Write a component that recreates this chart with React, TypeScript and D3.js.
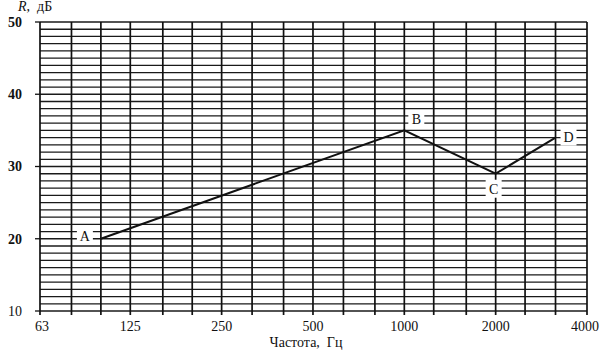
import { useEffect, useRef } from 'react';
import * as d3 from 'd3';

// Third-octave grid frequencies and labelled octaves
const gridFreqs = [63, 80, 100, 125, 160, 200, 250, 315, 400, 500, 630, 800, 1000, 1250, 1600, 2000, 2500, 3150, 4000];
const freqLabels = [63, 125, 250, 500, 1000, 2000, 4000];
const dbTicks = [10, 20, 30, 40, 50];

// Insulation curve A-B-C-D
const pointNames = ['A', 'B', 'C', 'D'];
const pointFreqs = [100, 1000, 2000, 3150];
const pointDb = [20, 35, 29, 34];

const font = '"Liberation Serif", "Times New Roman", serif';

export default function App() {
  const svgRef = useRef<SVGSVGElement>(null);

  useEffect(() => {
    if (!svgRef.current) return;
    const width = 606;
    const height = 355;
    const margin = { top: 22, right: 19, bottom: 44, left: 40 };

    const svg = d3.select(svgRef.current);
    svg.selectAll('*').remove();
    svg.attr('width', width).attr('height', height);

    svg.append('rect').attr('width', width).attr('height', height).attr('fill', '#fff');

    const x = d3.scaleLog().domain([63, 4000]).range([margin.left, width - margin.right]);
    const y = d3.scaleLinear().domain([10, 50]).range([height - margin.bottom, margin.top]);

    const g = svg.append('g');

    // Horizontal 1 dB grid
    g.append('g')
      .selectAll('line')
      .data(d3.range(10, 51))
      .join('line')
      .attr('x1', x(63))
      .attr('x2', x(4000))
      .attr('y1', d => y(d))
      .attr('y2', d => y(d))
      .attr('stroke', '#1a1a1a')
      .attr('stroke-width', 1.3);

    // Vertical third-octave grid
    g.append('g')
      .selectAll('line')
      .data(gridFreqs)
      .join('line')
      .attr('x1', d => x(d))
      .attr('x2', d => x(d))
      .attr('y1', y(50))
      .attr('y2', y(10) + 4)
      .attr('stroke', '#111')
      .attr('stroke-width', 1.7);

    // Y ticks + labels
    const yAxis = g.append('g');
    yAxis.selectAll('line')
      .data(dbTicks)
      .join('line')
      .attr('x1', x(63) - 5)
      .attr('x2', x(63))
      .attr('y1', d => y(d))
      .attr('y2', d => y(d))
      .attr('stroke', '#111')
      .attr('stroke-width', 1.3);
    yAxis.selectAll('text')
      .data(dbTicks)
      .join('text')
      .attr('x', 22)
      .attr('y', d => y(d))
      .attr('dy', '0.35em')
      .attr('text-anchor', 'end')
      .attr('font-family', font)
      .attr('font-size', 14)
      .attr('font-weight', d => (d === 10 ? 400 : 700))
      .attr('fill', '#111')
      .text(d => d);

    // X labels
    g.append('g')
      .selectAll('text')
      .data(freqLabels)
      .join('text')
      .attr('x', d => x(d) + (d === 63 ? 2 : d === 4000 ? -2 : 0))
      .attr('y', 331)
      .attr('text-anchor', 'middle')
      .attr('font-family', font)
      .attr('font-size', 14)
      .attr('fill', '#111')
      .text(d => d);

    // Axis titles
    svg.append('text')
      .attr('x', 306)
      .attr('y', 347)
      .attr('text-anchor', 'middle')
      .attr('font-family', font)
      .attr('font-size', 14)
      .attr('fill', '#111')
      .style('white-space', 'pre')
      .text('Частота,  Гц');

    const yt = svg.append('text')
      .attr('x', 18)
      .attr('y', 11)
      .attr('font-family', font)
      .attr('font-size', 14)
      .attr('fill', '#111')
      .style('white-space', 'pre');
    yt.append('tspan').attr('font-style', 'italic').text('R');
    yt.append('tspan').text(',  дБ');

    // Curve
    const pts = pointFreqs.map((f, i) => ({ f, db: pointDb[i], name: pointNames[i] }));
    const line = d3.line<{ f: number; db: number }>().x(d => x(d.f)).y(d => y(d.db));
    g.append('path')
      .datum(pts)
      .attr('d', line)
      .attr('fill', 'none')
      .attr('stroke', '#111')
      .attr('stroke-width', 2);

    // Point labels with white background
    const offsets: Record<string, [number, number]> = {
      A: [-16, -3],
      B: [12, -11],
      C: [-2, 15],
      D: [13, -1],
    };
    const lbl = g.append('g')
      .selectAll('g')
      .data(pts)
      .join('g')
      .attr('transform', d => `translate(${x(d.f) + offsets[d.name][0]},${y(d.db) + offsets[d.name][1]})`);
    lbl.append('rect')
      .attr('x', -8)
      .attr('y', -9)
      .attr('width', 16)
      .attr('height', 18)
      .attr('fill', '#fff');
    lbl.append('text')
      .attr('text-anchor', 'middle')
      .attr('dy', '0.35em')
      .attr('font-family', font)
      .attr('font-size', 14)
      .attr('fill', '#111')
      .text(d => d.name);
  }, []);

  return (
    <div style={{ position: 'absolute', left: 0, top: 0 }}>
      <svg ref={svgRef} style={{ display: 'block' }} />
    </div>
  );
}
